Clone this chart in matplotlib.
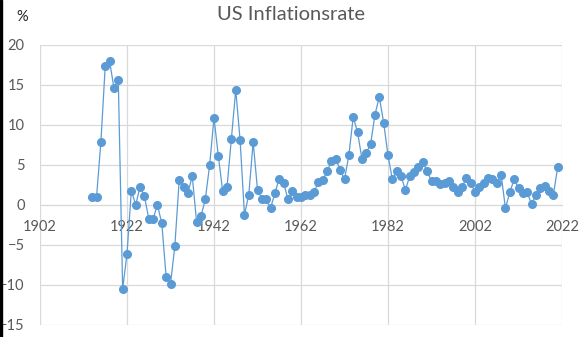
import numpy as np
import matplotlib.pyplot as plt

# annual US consumer price inflation, %
years = list(range(1914, 2022))
rates = [1.0, 1.0, 7.9, 17.4, 18.0, 14.6, 15.6, -10.5, -6.1, 1.8,
         0.0, 2.3, 1.1, -1.7, -1.7, 0.0, -2.3, -9.0, -9.9, -5.1,
         3.1, 2.2, 1.5, 3.6, -2.1, -1.4, 0.7, 5.0, 10.9, 6.1,
         1.7, 2.3, 8.3, 14.4, 8.1, -1.2, 1.3, 7.9, 1.9, 0.8,
         0.7, -0.4, 1.5, 3.3, 2.8, 0.7, 1.7, 1.0, 1.0, 1.3,
         1.3, 1.6, 2.9, 3.1, 4.2, 5.5, 5.7, 4.4, 3.2, 6.2,
         11.0, 9.1, 5.8, 6.5, 7.6, 11.3, 13.5, 10.3, 6.2, 3.2,
         4.3, 3.6, 1.9, 3.6, 4.1, 4.8, 5.4, 4.2, 3.0, 3.0,
         2.6, 2.8, 3.0, 2.3, 1.6, 2.2, 3.4, 2.8, 1.6, 2.3,
         2.7, 3.4, 3.2, 2.8, 3.8, -0.4, 1.6, 3.2, 2.1, 1.5,
         1.6, 0.1, 1.3, 2.1, 2.4, 1.8, 1.2, 4.7]

xticks = list(range(1902, 2023, 20))
yticks = list(range(-15, 21, 5))

plt.rcParams['font.family'] = ['Lato', 'DejaVu Sans']
txt = '#595959'
grid = '#D9D9D9'

fig = plt.figure(figsize=(5.82, 3.37), dpi=100)
ax = fig.add_axes([40/582, 12/337, 522/582, 280/337])

ax.plot(years, rates, color='#5B9BD5', lw=0.9, marker='o', ms=5.5,
        mec='#5B9BD5', mfc='#5B9BD5', zorder=3)

ax.set_xlim(1902, 2022)
ax.set_ylim(-15, 20)
ax.set_xticks(xticks)
ax.set_yticks(yticks)
ax.grid(True, color=grid, lw=0.9)
ax.set_axisbelow(True)

for s in ['top', 'right', 'left']:
    ax.spines[s].set_visible(False)
ax.spines['bottom'].set_position(('data', 0))
ax.spines['bottom'].set_color(grid)
ax.tick_params(axis='both', length=0, labelsize=10.5, labelcolor=txt)
ax.tick_params(axis='x', pad=11)
ax.tick_params(axis='y', pad=11)

fig.text(0.5, 1 - 14/337, 'US Inflationsrate', ha='center', va='center',
         fontsize=14.5, color=txt)
fig.text(22/582, 1 - 17/337, '%', ha='center', va='center',
         fontsize=10.5, color='#222222')

# dark strip on the left edge
fig.patches.append(plt.Rectangle((0, 0), 2/582, 1, transform=fig.transFigure,
                                 color='black', zorder=10))

fig.savefig('out.png', dpi=100)
